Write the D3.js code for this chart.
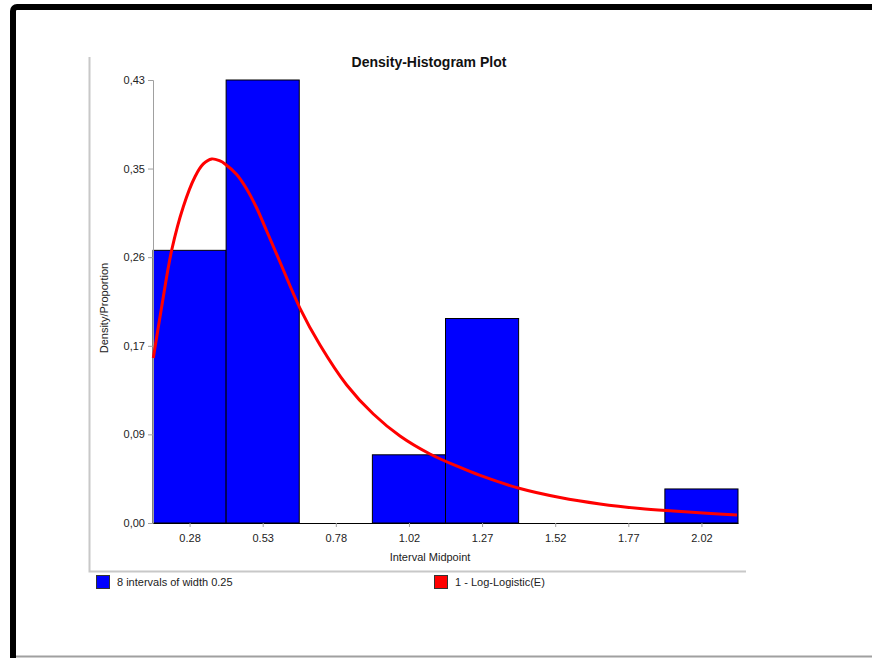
<!DOCTYPE html>
<html>
<head>
<meta charset="utf-8">
<script src="https://cdn.jsdelivr.net/npm/d3@7"></script>
<style>
  html, body { margin: 0; padding: 0; background: #fff; }
  svg { display: block; font-family: Arial, "Liberation Sans", sans-serif; }
</style>
</head>
<body>
<svg id="chart" width="872" height="658"></svg>
<script>
// Histogram: interval midpoints and proportion of observations per interval
const midpoints = [0.275, 0.525, 0.775, 1.025, 1.275, 1.525, 1.775, 2.025];
const proportions = [0.2667, 0.4333, 0, 0.0667, 0.2, 0, 0, 0.0333];
const binWidth = 0.25;

// Fitted Log-Logistic(E) curve, in the same proportion units
const fitX = [0.151, 0.1797, 0.214, 0.2536, 0.2936, 0.322, 0.3507, 0.3791, 0.3962, 0.4362,
              0.4703, 0.5045, 0.5387, 0.5842, 0.6526, 0.721, 0.8122, 0.9032, 0.9944, 1.097,
              1.2, 1.2684, 1.4047, 1.5415, 1.6782, 1.815, 1.9288, 2.043, 2.1466];
const fitY = [0.1614, 0.2116, 0.267, 0.3094, 0.3387, 0.3512, 0.3561, 0.3541, 0.3512, 0.3409,
              0.3267, 0.3081, 0.2856, 0.2553, 0.21, 0.1741, 0.135, 0.1066, 0.0851, 0.0675,
              0.0543, 0.0465, 0.0337, 0.0249, 0.0186, 0.0142, 0.0117, 0.0095, 0.0078];

// Axis ticks
const xTickLabels = ["0.28", "0.53", "0.78", "1.02", "1.27", "1.52", "1.77", "2.02"];
const yTickValues = [0, 0.0867, 0.1733, 0.26, 0.3467, 0.4333];
const yTickLabels = ["0,00", "0,09", "0,17", "0,26", "0,35", "0,43"];

const svg = d3.select("#chart");

// Outer window frame
svg.append("rect")
  .attr("x", 13).attr("y", 7).attr("width", 900).attr("height", 700)
  .attr("rx", 4).attr("fill", "none").attr("stroke", "#000").attr("stroke-width", 6);
svg.append("line")
  .attr("x1", 16).attr("x2", 872).attr("y1", 656.5).attr("y2", 656.5)
  .attr("stroke", "#a0a0a0").attr("stroke-width", 2);

// Chart panel edges
svg.append("path")
  .attr("d", "M89.5,57 V571.5 H746")
  .attr("fill", "none").attr("stroke", "#c8c8c8").attr("stroke-width", 2);

const x = d3.scaleLinear().domain([0.15, 2.15]).range([153, 738]);
const y = d3.scaleLinear().domain([0, 0.4333]).range([523, 80]);

// Bars
svg.append("g").selectAll("rect")
  .data(midpoints.map((m, i) => ({ m, p: proportions[i] })).filter(d => d.p > 0))
  .join("rect")
  .attr("x", d => x(d.m - binWidth / 2))
  .attr("width", d => x(d.m + binWidth / 2) - x(d.m - binWidth / 2))
  .attr("y", d => y(d.p))
  .attr("height", d => y(0) - y(d.p))
  .attr("fill", "#0000ff")
  .attr("stroke", "#000")
  .attr("stroke-width", 1);

// Y axis
const yAxis = svg.append("g")
  .attr("transform", "translate(153,0)")
  .call(d3.axisLeft(y).tickValues(yTickValues)
    .tickFormat((d, i) => yTickLabels[i]).tickSize(5).tickPadding(3));
yAxis.select(".domain").attr("stroke", "#a0a0a0");
yAxis.selectAll(".tick line").attr("stroke", "#a0a0a0");
yAxis.selectAll("text").attr("font-size", 11).attr("fill", "#222")
  .attr("font-family", "Arial, 'Liberation Sans', sans-serif");

// X axis
const xAxis = svg.append("g")
  .attr("transform", "translate(0,523)")
  .call(d3.axisBottom(x).tickValues(midpoints)
    .tickFormat((d, i) => xTickLabels[i]).tickSize(4).tickSizeOuter(0).tickPadding(7));
xAxis.select(".domain").attr("stroke", "#000");
xAxis.selectAll(".tick line").attr("stroke", "#a0a0a0");
xAxis.selectAll("text").attr("font-size", 11).attr("fill", "#222")
  .attr("font-family", "Arial, 'Liberation Sans', sans-serif");

// Fitted curve
const line = d3.line()
  .x((d, i) => x(fitX[i]))
  .y((d, i) => y(fitY[i]))
  .curve(d3.curveCatmullRom.alpha(0.5));
svg.append("path")
  .attr("d", line(fitX))
  .attr("fill", "none")
  .attr("stroke", "#ff0000")
  .attr("stroke-width", 3)
  .attr("stroke-linejoin", "round");

// Titles
svg.append("text")
  .attr("x", 429).attr("y", 67)
  .attr("text-anchor", "middle")
  .attr("font-size", 14).attr("font-weight", "bold").attr("fill", "#111")
  .text("Density-Histogram Plot");

svg.append("text")
  .attr("x", 430).attr("y", 561)
  .attr("text-anchor", "middle")
  .attr("font-size", 11).attr("fill", "#222")
  .text("Interval Midpoint");

svg.append("text")
  .attr("transform", "translate(108,308) rotate(-90)")
  .attr("text-anchor", "middle")
  .attr("font-size", 11).attr("fill", "#222")
  .text("Density/Proportion");

// Legend
const legend = [
  { label: "8 intervals of width 0.25", color: "#0000ff", x: 96.5, tx: 117 },
  { label: "1 - Log-Logistic(E)", color: "#ff0000", x: 434.5, tx: 455 }
];
const lg = svg.append("g").selectAll("g").data(legend).join("g");
lg.append("rect")
  .attr("x", d => d.x).attr("y", 575.5)
  .attr("width", 13).attr("height", 13)
  .attr("fill", d => d.color).attr("stroke", "#333");
lg.append("text")
  .attr("x", d => d.tx).attr("y", 586)
  .attr("font-size", 11).attr("fill", "#222")
  .text(d => d.label);
</script>
</body>
</html>
